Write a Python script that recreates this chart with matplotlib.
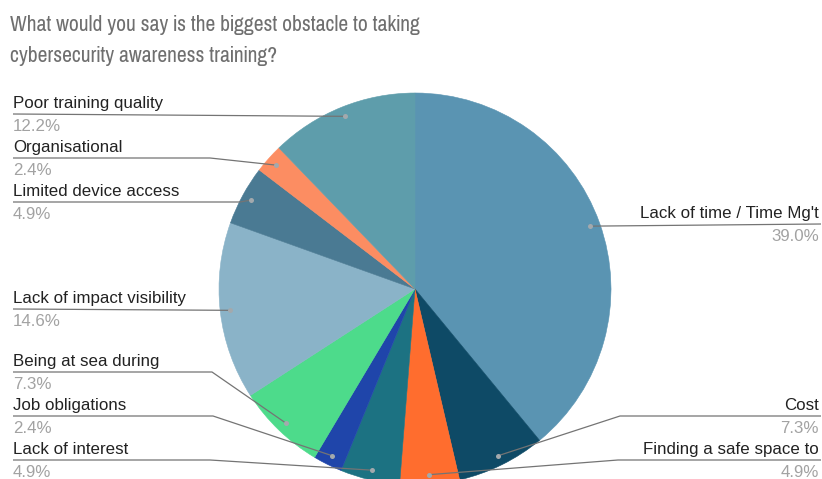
import matplotlib
matplotlib.use("Agg")
import matplotlib.pyplot as plt
import numpy as np

# ---------------- data ----------------
categories = ["Lack of time / Time Mg't", "Cost", "Finding a safe space to",
              "Lack of interest", "Job obligations", "Being at sea during",
              "Lack of impact visibility", "Limited device access",
              "Organisational", "Poor training quality"]
percentages = [39.0, 7.3, 4.9, 4.9, 2.4, 7.3, 14.6, 4.9, 2.4, 12.2]
colors = ["#5a94b2", "#0e4a66", "#ff6d2e", "#1c7282", "#1f45aa", "#4ddb8b",
          "#8ab3c8", "#4a7a93", "#fc8d62", "#5e9dab"]
title_lines = ["What would you say is the biggest obstacle to taking",
               "cybersecurity awareness training?"]

# ---------------- layout (pixels from top-left) ----------------
W, H = 822, 479
CX, CY, R = 415, 289, 196
# side, name baseline y, bend x (None = straight)
label_layout = {
    "Lack of time / Time Mg't": ("right", 218, None),
    "Cost": ("right", 410, 620),
    "Finding a safe space to": ("right", 454, 618),
    "Lack of interest": ("left", 454, 210),
    "Job obligations": ("left", 410, 213),
    "Being at sea during": ("left", 366, 212),
    "Lack of impact visibility": ("left", 303, None),
    "Limited device access": ("left", 196, 240),
    "Organisational": ("left", 152, 210),
    "Poor training quality": ("left", 108, None),
}

def Y(py):
    return H - py

fig = plt.figure(figsize=(W / 100, H / 100), dpi=100)
ax = fig.add_axes([0, 0, 1, 1])

wedges, _ = ax.pie(percentages, colors=colors, startangle=90, counterclock=False,
                   center=(CX, Y(CY)), radius=R,
                   wedgeprops=dict(linewidth=0.4, antialiased=True))
for w, c in zip(wedges, colors):
    w.set_edgecolor(c)

ax.set_xlim(0, W)
ax.set_ylim(0, H)
ax.set_aspect("equal")
ax.axis("off")

label_font = "Liberation Sans"
label_size = 12.2
line_color = "#747474"
total = sum(percentages)
cum = 0.0
for cat, p in zip(categories, percentages):
    mid = cum + p / 2.0
    cum += p
    theta = np.deg2rad(90 - 360.0 * mid / total)
    dx = CX + 0.95 * R * np.cos(theta)
    dy = Y(CY) + 0.95 * R * np.sin(theta)
    side, base, bend = label_layout[cat]
    ly = Y(base + 6)
    if side == "left":
        xt = 13
        ha = "left"
        if bend is None:
            xs, ys = [xt, dx], [ly, dy]
        else:
            xs, ys = [xt, bend, dx], [ly, ly, dy]
    else:
        xt = 819
        ha = "right"
        if bend is None:
            xs, ys = [821, dx], [ly, dy]
        else:
            xs, ys = [821, bend, dx], [ly, ly, dy]
    ax.plot(xs, ys, color=line_color, lw=0.9, solid_capstyle="butt", zorder=3)
    ax.plot([dx], [dy], "o", ms=3.6, color="#a3a9ad", mec="none", zorder=4)
    ax.text(xt, Y(base), cat, ha=ha, va="baseline", fontsize=label_size,
            family=label_font, color="#222222")
    ax.text(xt, Y(base + 23), f"{p:.1f}%", ha=ha, va="baseline", fontsize=label_size,
            family=label_font, color="#a2a2a2")

# title
title_font = ["Pragati Narrow", "Liberation Sans"]
t1 = ax.text(10, Y(31), title_lines[0], ha="left", va="baseline", fontsize=19,
             family=title_font, color="#6f6f6f")
t2 = ax.text(10, Y(62), title_lines[1], ha="left", va="baseline", fontsize=19,
             family=title_font, color="#6f6f6f")
fig.canvas.draw()
wpx = t1.get_window_extent().width
fs = 19 * 411.0 / wpx
t1.set_fontsize(fs)
t2.set_fontsize(fs)

fig.savefig("out.png", dpi=100)
